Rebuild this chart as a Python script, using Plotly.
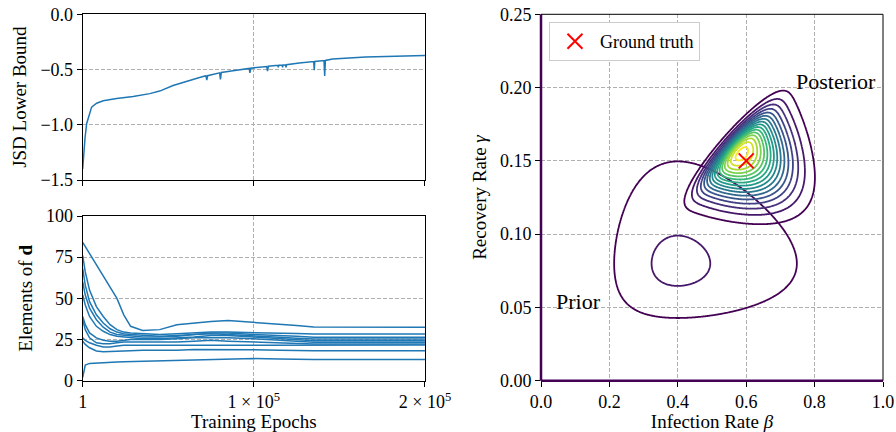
import math
import numpy as np
import plotly.graph_objects as go

# ---------------- data ----------------
JSD_EPOCHS = [1, 500, 1360, 2300, 4270, 5200, 8150, 12000, 19800, 29500, 39200, 45000,
              52800, 60600, 68300, 72000, 72500, 73000, 80000, 80500, 81000, 87800,
              97300, 97700, 98200, 107500, 108000, 108500, 114000, 114300, 114600,
              116500, 116800, 117100, 118500, 118800, 119100, 126600, 135000, 135300,
              135600, 141000, 141400, 141800, 146000, 165400, 184900, 200000]
JSD_VALUES = [-1.40, -1.25, -1.12, -0.99, -0.88, -0.84, -0.805, -0.782, -0.762, -0.745,
              -0.718, -0.695, -0.645, -0.605, -0.572, -0.556, -0.595, -0.556, -0.530,
              -0.590, -0.527, -0.510, -0.490, -0.530, -0.488, -0.472, -0.515, -0.470,
              -0.462, -0.480, -0.461, -0.459, -0.480, -0.458, -0.457, -0.480, -0.456,
              -0.440, -0.428, -0.505, -0.427, -0.419, -0.558, -0.418, -0.405, -0.387,
              -0.378, -0.374]

D_EPOCHS = [1, 1500, 4000, 8000, 12000, 16000, 20000, 24000, 28000, 35000, 45000,
            55000, 65000, 75000, 85000, 100000, 115000, 125000, 135000, 200000]
D_ELEMENTS = [
    [84, 81.5, 77, 70, 63.5, 57.5, 50, 40, 33, 30.5, 31, 34, 35, 36, 36.5, 35.5, 34.5, 33.5, 32.6, 32.5],
    [76, 66, 55, 45, 39, 34, 31, 29.5, 29, 28.5, 28, 28.5, 29, 29.5, 29.5, 29, 28.8, 28.6, 28.4, 28.4],
    [68, 58, 48, 40, 35, 31.5, 29.5, 28.5, 28, 27.5, 27, 27.5, 28, 29, 29, 28, 27.5, 27, 26.3, 26.3],
    [60, 52, 44, 37, 32.5, 29.5, 28, 27.5, 27, 26.5, 26.5, 27, 28, 28.5, 28, 27, 26.3, 25.8, 25.3, 25.3],
    [52, 46, 39, 33, 30, 28, 27, 26.5, 26, 25.5, 25.5, 26, 26.5, 27.5, 27.5, 26.5, 25.5, 24.8, 24.3, 24.3],
    [39, 34, 29, 26, 24.5, 24, 24, 24.5, 25, 25, 25, 25.5, 26, 26, 26, 25.5, 24.5, 23.8, 23.3, 23.3],
    [37, 31, 26, 23, 22.5, 22.5, 23, 23.5, 23.5, 23.5, 23.5, 23.5, 24, 24.5, 24, 23.5, 23, 22.5, 22.3, 22.3],
    [26, 24.5, 23, 21.5, 20.5, 20.5, 21, 21.5, 21.5, 21.5, 21.5, 21.5, 21.5, 21.8, 21.8, 21.5, 21.8, 21.8, 21.7, 21.7],
    [24, 22, 20, 18, 17.5, 17.5, 17.8, 18, 18.2, 18.5, 18.5, 18.5, 19, 19, 19, 18.8, 18.5, 18.3, 18.2, 18.2],
    [2, 9.5, 10.5, 10.8, 11, 11.2, 11.3, 11.5, 11.6, 11.8, 12, 12.2, 12.5, 13, 13.3, 13.4, 13.2, 13, 12.9, 12.9],
]

X_TICKS = [1, 100000, 200000]
X_TICK_TEXT = ["1", "1 × 10<sup>5</sup>", "2 × 10<sup>5</sup>"]
JSD_TICKS = [-1.5, -1.0, -0.5, 0.0]
JSD_TICK_TEXT = ["−1.5", "−1.0", "−0.5", "0.0"]
D_TICKS = [0, 25, 50, 75, 100]
BETA_TICKS = [0.0, 0.2, 0.4, 0.6, 0.8, 1.0]
GAMMA_TICKS = [0.0, 0.05, 0.10, 0.15, 0.20, 0.25]

# prior: independent log-normals (mode, log-sd); peak height in contour-level units
PRIOR_MODE = [0.40, 0.08]
PRIOR_LOGSD = [0.5, 0.5]
PRIOR_PEAK = 2.19
# posterior: skewed bell (origin, two axis vectors, skew, taper); peak in level units
POST_ORIGIN = [0.557, 0.161]
POST_AXIS_S = [0.0655, 0.0174]
POST_AXIS_T = [0.0896, -0.0184]
POST_SKEW = 6.0
POST_TAPER = 0.15
POST_PEAK = 16.5
LEVELS = [1, 16, 1]  # start, end, step
TRUTH = [0.6, 0.15]

BLUE = "#1f77b4"
FONT = "Liberation Serif"

# ---------------- densities ----------------
bx = np.linspace(0.0005, 1.0, 401)
gy = np.linspace(0.0002, 0.25, 401)
B, G = np.meshgrid(bx, gy)

mu_b = np.log(PRIOR_MODE[0]) + PRIOR_LOGSD[0] ** 2
mu_g = np.log(PRIOR_MODE[1]) + PRIOR_LOGSD[1] ** 2
prior = (np.exp(-(np.log(B) - mu_b) ** 2 / (2 * PRIOR_LOGSD[0] ** 2)) / B *
         np.exp(-(np.log(G) - mu_g) ** 2 / (2 * PRIOR_LOGSD[1] ** 2)) / G)
z_prior = PRIOR_PEAK * prior / prior.max()

M = np.array([[POST_AXIS_S[0], POST_AXIS_T[0]], [POST_AXIS_S[1], POST_AXIS_T[1]]])
Minv = np.linalg.inv(M)
db = B - POST_ORIGIN[0]
dg = G - POST_ORIGIN[1]
S = Minv[0, 0] * db + Minv[0, 1] * dg
T = Minv[1, 0] * db + Minv[1, 1] * dg
erf = np.frompyfunc(math.erf, 1, 1)
Phi = 0.5 * (1 + erf(POST_SKEW * T / math.sqrt(2)).astype(float))
W = np.exp(-POST_TAPER * T)
post = np.exp(-S ** 2 / (2 * W ** 2) - T ** 2 / 2) * Phi
z_post = POST_PEAK * post / post.max()

# ---------------- figure ----------------
fig = go.Figure()

fig.add_trace(go.Scatter(x=JSD_EPOCHS, y=JSD_VALUES, mode="lines",
                         line=dict(color=BLUE, width=1.5), xaxis="x", yaxis="y",
                         showlegend=False, hoverinfo="skip"))
for vals in D_ELEMENTS:
    fig.add_trace(go.Scatter(x=D_EPOCHS, y=vals, mode="lines",
                             line=dict(color=BLUE, width=1.5), xaxis="x2", yaxis="y2",
                             showlegend=False, hoverinfo="skip"))

for z in (z_prior, z_post):
    fig.add_trace(go.Contour(x=bx, y=gy, z=z, xaxis="x3", yaxis="y3",
                             contours=dict(start=LEVELS[0], end=LEVELS[1], size=LEVELS[2],
                                           coloring="lines"),
                             colorscale="Viridis", zauto=False, zmin=0, zmax=18.5,
                             line=dict(width=1.8), showscale=False, showlegend=False,
                             hoverinfo="skip"))

fig.add_trace(go.Scatter(x=[TRUTH[0]], y=[TRUTH[1]], mode="markers", name="Ground truth",
                         marker=dict(symbol="x-thin", size=15,
                                     line=dict(width=2, color="red"), color="red"),
                         xaxis="x3", yaxis="y3", showlegend=True, hoverinfo="skip"))

grid = dict(showgrid=True, gridcolor="#b0b0b0", gridwidth=1, griddash="4px,2px",
            zeroline=False, ticks="outside", ticklen=5, tickcolor="black",
            tickfont=dict(size=18, color="black"), automargin=False)
box = dict(showline=True, linecolor="black", linewidth=1, mirror=True)
tfont = dict(size=19, color="black")

fig.update_layout(
    width=896, height=432, margin=dict(l=0, r=0, t=0, b=0),
    paper_bgcolor="white", plot_bgcolor="white",
    font=dict(family=FONT, size=18, color="black"),
    xaxis=dict(domain=[0.0923, 0.4743], range=[1, 200000], tickvals=X_TICKS,
               showticklabels=False, anchor="y", **grid, **box),
    yaxis=dict(domain=[0.5833, 0.9669], range=[-1.5, 0.0], tickvals=JSD_TICKS,
               ticktext=JSD_TICK_TEXT, anchor="x",
               title=dict(text="JSD Lower Bound", font=tfont, standoff=8),
               **grid, **box),
    xaxis2=dict(domain=[0.0923, 0.4743], range=[1, 200000], tickvals=X_TICKS,
                ticktext=X_TICK_TEXT, anchor="y2",
                title=dict(text="Training Epochs", font=tfont, standoff=7),
                **grid, **box),
    yaxis2=dict(domain=[0.1188, 0.5], range=[0, 100], tickvals=D_TICKS, anchor="x2",
                title=dict(text="Elements of <b>d</b>", font=tfont, standoff=8),
                **grid, **box),
    xaxis3=dict(domain=[0.6038, 0.9855], range=[0, 1], tickvals=BETA_TICKS,
                ticktext=[f"{t:.1f}" for t in BETA_TICKS], anchor="y3",
                title=dict(text="Infection Rate <i>β</i>", font=tfont, standoff=7),
                showline=False, **grid),
    yaxis3=dict(domain=[0.1188, 0.9669], range=[0, 0.25], tickvals=GAMMA_TICKS,
                ticktext=[f"{t:.2f}" for t in GAMMA_TICKS], anchor="x3",
                title=dict(text="Recovery Rate <i>γ</i>", font=tfont, standoff=8),
                showline=False, **grid),
    legend=dict(x=0.6127, y=0.949, xanchor="left", yanchor="top", bgcolor="white",
                bordercolor="#cccccc", borderwidth=1, font=dict(size=18, color="black"),
                itemwidth=40),
    annotations=[
        dict(text="Posterior", x=0.862, y=0.2044, xref="x3", yref="y3", showarrow=False,
             font=dict(size=22, color="black")),
        dict(text="Prior", x=0.11, y=0.054, xref="x3", yref="y3", showarrow=False,
             font=dict(size=22, color="black")),
    ],
    shapes=[
        dict(type="line", xref="x3 domain", yref="y3 domain", x0=0, x1=0, y0=0, y1=1,
             line=dict(color="#440154", width=2.5)),
        dict(type="line", xref="x3 domain", yref="y3 domain", x0=0, x1=1, y0=0, y1=0,
             line=dict(color="#440154", width=2.5)),
        dict(type="line", xref="x3 domain", yref="y3 domain", x0=1, x1=1, y0=0, y1=1,
             line=dict(color="black", width=1)),
        dict(type="line", xref="x3 domain", yref="y3 domain", x0=0, x1=1, y0=1, y1=1,
             line=dict(color="black", width=1)),
    ],
)

# remove the default page margin so the 896x432 figure fills the window exactly
fig.write_html("out.html", config={"displayModeBar": False, "staticPlot": True},
               post_script="document.body.style.margin='0';document.body.style.overflow='hidden';")
